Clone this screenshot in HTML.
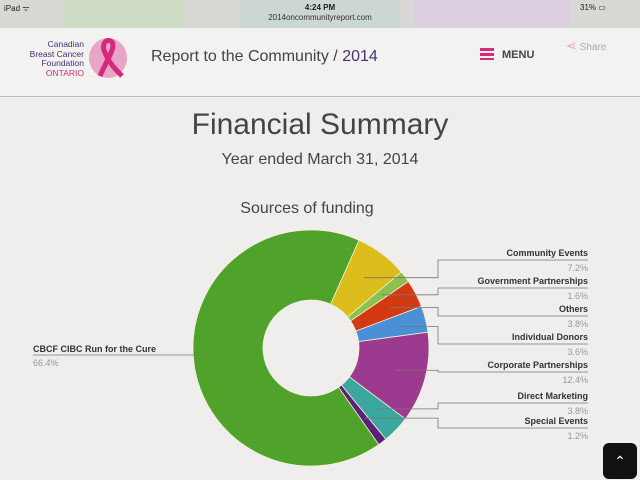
<!DOCTYPE html>
<html><head><meta charset="utf-8"><style>
body{margin:0;width:640px;height:480px;overflow:hidden;background:#efeeec;font-family:"Liberation Sans",sans-serif;position:relative}
.abs{position:absolute}
</style></head><body>
<div class="abs" style="left:0;top:0;width:640px;height:28px;background:#d9d8d5"></div>
<div class="abs" style="left:64px;top:0;width:120px;height:28px;background:#cfdcc4"></div>
<div class="abs" style="left:240px;top:0;width:160px;height:28px;background:#ccd6d3"></div>
<div class="abs" style="left:414px;top:0;width:156px;height:28px;background:#dccfdf"></div>
<div class="abs" style="left:4px;top:3px;font-size:8px;color:#222">iPad ᯤ</div>
<div class="abs" style="left:0;width:640px;top:3px;text-align:center;font-size:8px;color:#222;font-weight:bold">4:24 PM</div>
<div class="abs" style="left:0;width:640px;top:13px;text-align:center;font-size:8px;color:#333">2014oncommunityreport.com</div>
<div class="abs" style="left:580px;top:3px;font-size:8px;color:#222">31% ▭</div>
<div class="abs" style="left:0;top:28px;width:640px;height:68px;background:#f2f2f0;border-bottom:1px solid #bbb"></div>
<div class="abs" style="left:20px;top:40px;width:64px;text-align:right;font-size:8.5px;line-height:9.5px;color:#4a2d7a">Canadian<br>Breast Cancer<br>Foundation<br><span style="color:#d6287d">ONTARIO</span></div>
<svg class="abs" style="left:86px;top:36px" width="50" height="46"><ellipse cx="22" cy="22" rx="19" ry="20" fill="#e8a6c6"/><path d="M14 40 C20 25 30 12 26 6 C22 2 16 6 18 14 C22 26 30 34 36 40" stroke="#d6287d" stroke-width="5" fill="none"/></svg>
<div class="abs" style="left:151px;top:48px;font-size:16px;color:#444">Report to the Community / <span style="color:#4a2d7a">2014</span></div>
<div class="abs" style="left:480px;top:48px;font-size:11px;font-weight:bold;color:#444"><span style="display:inline-block;width:14px;height:12px;vertical-align:-2px;margin-right:8px;background:repeating-linear-gradient(#d6287d 0 3px,transparent 3px 5px)"></span>MENU</div>
<div class="abs" style="left:566px;top:38px;font-size:10px;color:#aaa"><span style="color:#e8a6c6;font-size:13px">⋖</span> Share</div>
<div class="abs" style="left:0;width:640px;top:108px;text-align:center;font-size:30px;color:#444">Financial Summary</div>
<div class="abs" style="left:0;width:640px;top:151px;text-align:center;font-size:16px;color:#444">Year ended March 31, 2014</div>
<div class="abs" style="left:0;width:614px;top:200px;text-align:center;font-size:16px;color:#444">Sources of funding</div>
<svg id="chart" class="abs" style="left:0;top:0" width="640" height="480"></svg>
<div class="abs" style="left:603px;top:443px;width:34px;height:36px;background:#111;border-radius:6px;color:#fff;text-align:center;font-size:14px;line-height:36px">⌃</div>
<script>
const categories=["Community Events","Government Partnerships","Others","Individual Donors","Corporate Partnerships","Direct Marketing","Special Events","CBCF CIBC Run for the Cure"];
const values=[7.2,1.6,3.8,3.6,12.4,3.8,1.2,66.4];
const labels=["7.2%","1.6%","3.8%","3.6%","12.4%","3.8%","1.2%","66.4%"];
const colors=["#dcbd1c","#8dc04f","#d43a12","#4a90d6","#9b3a8e","#3aa89f","#5a2178","#4fa22a"];
const labelY=[253,281,309,337,365,396,421];
const svg=document.getElementById('chart');const NS='http://www.w3.org/2000/svg';
const cx=311,cy=348,R=118,r=48,start=24;
const total=values.reduce((a,b)=>a+b,0);
function pt(a,rad){const t=(a-90)*Math.PI/180;return[cx+rad*Math.cos(t),cy+rad*Math.sin(t)];}
function mk(tag,at){const e=document.createElementNS(NS,tag);for(const k in at)e.setAttribute(k,at[k]);svg.appendChild(e);return e;}
let a=start;const mids=[];
values.forEach((v,i)=>{
 const a2=a+v/total*360,lg=(a2-a)>180?1:0;
 const [x1,y1]=pt(a,R),[x2,y2]=pt(a2,R),[x3,y3]=pt(a2,r),[x4,y4]=pt(a,r);
 const p=mk('path',{d:`M${x1} ${y1}A${R} ${R} 0 ${lg} 1 ${x2} ${y2}L${x3} ${y3}A${r} ${r} 0 ${lg} 0 ${x4} ${y4}Z`,fill:colors[i],stroke:'#f4f0d8','stroke-width':0.8});
 
 
 mids.push((a+a2)/2);
 a=a2;
});
values.forEach((v,i)=>{
 const [px,py]=pt(mids[i],(R+r)/2+(i==7?20:5));
 if(i<7){
  const ly=labelY[i]+7;
  const l=mk('polyline',{points:`${px},${py} 438,${py} 438,${ly} 588,${ly}`,fill:'none',stroke:'#777','stroke-width':0.8});
  
  
  const t=mk('text',{x:588,y:labelY[i]+3,'text-anchor':'end','font-size':9,'font-weight':600,fill:'#333'});t.textContent=categories[i];
  
  
  const t2=mk('text',{x:588,y:labelY[i]+18,'text-anchor':'end','font-size':9,fill:'#999'});t2.textContent=labels[i];
  
  
 } else {
  const l=mk('polyline',{points:`33,355 ${px},355`,fill:'none',stroke:'#777','stroke-width':0.8});
  
  
  const t=mk('text',{x:33,y:352,'font-size':9,'font-weight':600,fill:'#333'});t.textContent=categories[i];
  
  
  const t2=mk('text',{x:33,y:366,'font-size':9,fill:'#999'});t2.textContent=labels[i];
  
  
 }
});
</script>
</body></html>
